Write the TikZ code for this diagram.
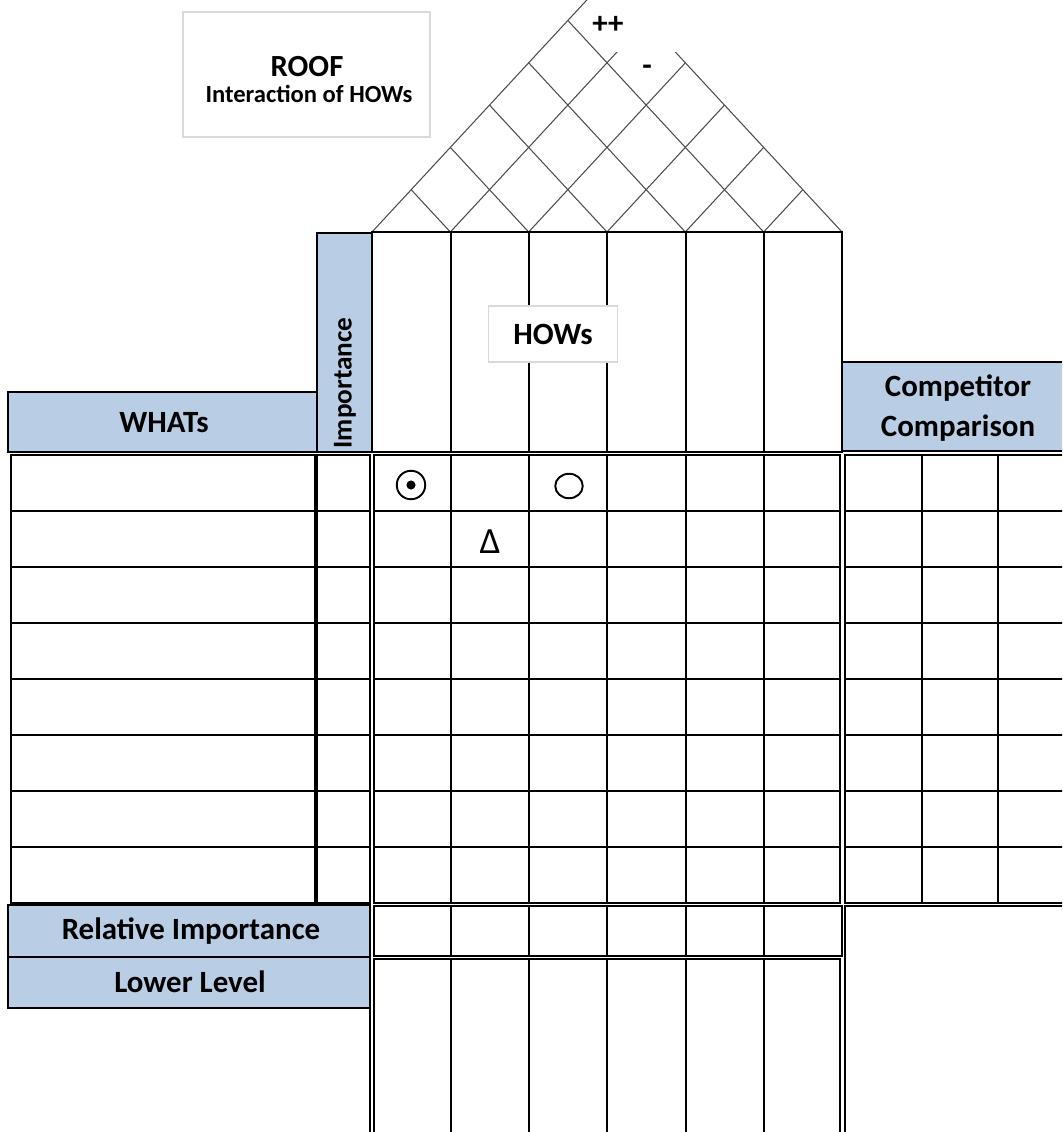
\documentclass[tikz,border=0pt]{standalone}
\usepackage{fontspec}
\setmainfont{Carlito}
\usetikzlibrary{shapes.geometric}
\definecolor{hdrblue}{HTML}{B9CDE5}
\definecolor{boxgray}{HTML}{D9D9D9}

\tikzset{
  grid line/.style={black, line width=0.9pt},
  hdr/.style={fill=hdrblue, draw=black, line width=0.9pt},
  roof line/.style={black!70, line width=0.6pt},
  lbl/.style={font=\bfseries\fontsize{17.6}{22.7}\selectfont, align=center, inner sep=0pt},
}

\begin{document}
\begin{tikzpicture}[x=0.02cm, y=-0.02cm]
 \useasboundingbox (0,0) rectangle (1062,1132);
 \clip (0,0) rectangle (1062,1132);
 % roof
 \foreach \i in {0,...,6}{
   \draw[roof line] ({372+78.33*\i},232) -- ({372+39.17*\i},{232-42.3*\i});
   \draw[roof line] ({372+78.33*\i},232) -- ({607+39.17*\i},{232-42.3*(6-\i)});
 }
 \fill[white] (600,-5) rectangle (683,52);
 \node[lbl] (plusplus) at (608,25) {++};
 \node[lbl] (minus) at (647,70) {-};
 \node[draw=boxgray, line width=0.8pt, minimum width=4.94cm, minimum height=2.5cm] (roofbox) at (306.5,74.5) {};
 \node[anchor=base, inner sep=0pt, font=\bfseries\fontsize{17.5}{20}\selectfont] (rooftitle) at (307,77) {ROOF};
 \node[anchor=base, inner sep=0pt, font=\bfseries\fontsize{14}{17}\selectfont] (roofsub) at (309,103) {Interaction of HOWs};
 % headers
 \draw[grid line] (372,232) rectangle (842,452);
 \foreach \x in {451,529,607,686,764} \draw[grid line] (\x,232) -- (\x,452);
 \node[draw=boxgray, fill=white, line width=0.8pt, minimum width=2.58cm, minimum height=1.12cm, lbl] (hows) at (553,334) {HOWs};
 \draw[hdr] (317,233) rectangle (372,452);
 \node[lbl, rotate=90, font=\bfseries\fontsize{15.5}{18}\selectfont] (importance) at (345,383) {Importance};
 \draw[hdr] (8,392) rectangle (317,452);
 \node[lbl] (whats) at (164,423) {WHATs};
 \draw[hdr] (842,362) rectangle (1075,451);
 \node[lbl] (competitor) at (958,408) {Competitor\\Comparison};
 % body
 \draw[grid line] (11,455) rectangle (317,903);
 \draw[grid line] (317,455) rectangle (370,903);
 \draw[grid line] (374,455) rectangle (840,903);
 \draw[grid line] (845,455) rectangle (1075,903);
 \foreach \y in {511,567,623,679,735,791,847} \draw[grid line] (11,\y) -- (370,\y) (374,\y) -- (840,\y) (845,\y) -- (1075,\y);
 \foreach \x in {451,529,607,686,764} \draw[grid line] (\x,455) -- (\x,903);
 \foreach \x in {922,998} \draw[grid line] (\x,455) -- (\x,903);
 \draw[line width=2pt] (316,455) -- (316,903);
 % symbols
 \node[draw, circle, line width=1.1pt, minimum size=0.57cm, inner sep=0pt] (strong) at (411,485) {};
 \fill (strong.center) circle (2.6pt);
 \node[draw, ellipse, line width=1.1pt, minimum width=0.55cm, minimum height=0.49cm, inner sep=0pt] (medium) at (569,486) {};
 \node[inner sep=0pt, font=\fontsize{21}{24}\selectfont] (weak) at (490,542) {Δ};
 % bottom
 \draw[hdr] (8,905) rectangle (370,957);
 \node[lbl] (relimp) at (191,931) {Relative Importance};
 \draw[hdr] (8,957) rectangle (370,1008);
 \node[lbl] (lower) at (190,982) {Lower Level};
 \draw[grid line] (374,906) rectangle (842,956);
 \draw[grid line] (374,959) rectangle (840,1145);
 \draw[grid line] (845,906) rectangle (1075,1145);
 \draw[grid line] (370,1008) -- (370,1145);
 \foreach \x in {451,529,607,686,764} \draw[grid line] (\x,906) -- (\x,956) (\x,959) -- (\x,1145);
\end{tikzpicture}
\end{document}
